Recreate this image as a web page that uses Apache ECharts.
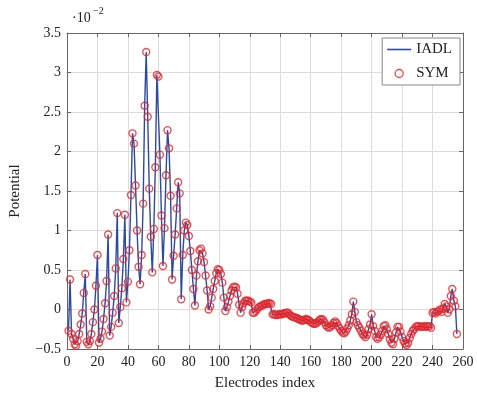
<!DOCTYPE html>
<html><head><meta charset="utf-8">
<script src="https://cdn.jsdelivr.net/npm/echarts@6/dist/echarts.min.js"></script>
<style>html,body{margin:0;padding:0;background:#fff}#c{width:477px;height:396px}</style>
</head><body><div id="c"></div>
<script>
// Tick values
const xTicks = [0,20,40,60,80,100,120,140,160,180,200,220,240,260];
const yTicks = [-0.5,0,0.5,1,1.5,2,2.5,3,3.5];
// Potential (x 1e-2), electrodes 1..256
const pot1 = [-0.27,0.38,-0.31,-0.37,-0.44,-0.46,-0.40,-0.31,-0.19,-0.05,0.21,0.45,-0.41,-0.44,-0.40,-0.31,-0.16,0.0,0.30,0.69,-0.42,-0.37,-0.28,-0.12,0.08,0.36,0.95,-0.33,-0.22,-0.04,0.17,0.52];
const pot2 = [1.22,-0.17,0.03,0.27,0.64,1.2,0.09,0.35,0.75,1.45,2.23,2.1,1.57,1.0,0.54,0.32,0.69,1.34,2.58,3.26,2.44,1.53,0.92,0.47,1.02,1.8,2.97,2.95,1.96,1.19,0.55,1.03];
const pot3 = [1.7,2.27,2.04,1.44,0.38,0.68,0.95,1.28,1.61,1.47,0.13,0.69,1.0,1.1,1.07,0.93,0.74,0.5,0.26,0.05,0.43,0.61,0.75,0.77,0.71,0.6,0.43,0.24,0.0,0.04,0.15,0.26];
const pot4 = [0.36,0.46,0.51,0.5,0.45,0.34,0.15,-0.02,0.03,0.1,0.17,0.24,0.28,0.29,0.28,0.2,0.06,-0.04,0.03,0.08,0.11,0.11,0.11,0.1,0.09,-0.04,-0.04,-0.02,0.01,0.03,0.04,0.05];
const pot5 = [0.06,0.07,0.07,0.08,0.08,0.07,-0.06,-0.06,-0.07,-0.07,-0.06,-0.06,-0.06,-0.05,-0.05,-0.04,-0.04,-0.06,-0.08,-0.09,-0.1,-0.1,-0.11,-0.12,-0.13,-0.14,-0.14,-0.13,-0.12,-0.13,-0.14,-0.16];
const pot6 = [-0.17,-0.18,-0.18,-0.17,-0.15,-0.13,-0.12,-0.13,-0.16,-0.2,-0.22,-0.23,-0.22,-0.2,-0.17,-0.15,-0.17,-0.21,-0.24,-0.27,-0.29,-0.3,-0.28,-0.24,-0.2,-0.14,-0.06,0.1,-0.03,-0.16,-0.2,-0.23];
const pot7 = [-0.27,-0.31,-0.33,-0.35,-0.32,-0.25,-0.19,-0.06,-0.21,-0.27,-0.35,-0.37,-0.35,-0.32,-0.27,-0.21,-0.2,-0.25,-0.31,-0.38,-0.42,-0.44,-0.37,-0.29,-0.22,-0.22,-0.28,-0.35,-0.4,-0.43,-0.45,-0.42];
const pot8 = [-0.36,-0.31,-0.27,-0.25,-0.22,-0.21,-0.21,-0.22,-0.22,-0.21,-0.22,-0.21,-0.22,-0.21,-0.23,-0.04,-0.03,-0.05,-0.03,-0.02,0.0,-0.03,0.01,0.07,0.04,-0.04,0.0,0.17,0.26,0.11,0.04,-0.31];
const potential = [].concat(pot1,pot2,pot3,pot4,pot5,pot6,pot7,pot8);
const electrodes = potential.map((_, i) => i + 1);
const iadlData = electrodes.map((e, i) => [e, potential[i]]);
const symData = electrodes.map((e, i) => [e, potential[i]]);

const BLUE = '#2e4a9e';
const RED = '#e3242b';
const FONT = "'Liberation Serif', 'DejaVu Serif', serif";
const chart = echarts.init(document.getElementById('c'), null, {renderer: 'canvas'});
const yFmt = v => (v < 0 ? '\u2212' : '') + String(Math.abs(v));
const axisCommon = {min: 0, max: 260, interval: 20, type: 'value'};
const frameLine = {show: true, onZero: false, lineStyle: {color: '#666', width: 1}};
const frameTick = {show: true, inside: true, length: 4, lineStyle: {color: '#666'}};
chart.setOption({
  animation: false,
  backgroundColor: '#fff',
  grid: {left: 67, right: 14, top: 33, bottom: 46, containLabel: false},
  xAxis: [
    Object.assign({}, axisCommon, {
      position: 'bottom',
      name: 'Electrodes index', nameLocation: 'middle', nameGap: 27,
      nameTextStyle: {fontFamily: FONT, fontSize: 15, color: '#222'},
      axisLine: frameLine, axisTick: frameTick,
      axisLabel: {fontFamily: FONT, fontSize: 14, color: '#222', margin: 6},
      splitLine: {show: true, lineStyle: {color: '#dcdcdc', width: 1}}
    }),
    Object.assign({}, axisCommon, {
      position: 'top',
      axisLine: frameLine, axisTick: frameTick,
      axisLabel: {show: false}, splitLine: {show: false}
    })
  ],
  yAxis: [
    {
      type: 'value', min: -0.5, max: 3.5, interval: 0.5, position: 'left',
      name: 'Potential', nameLocation: 'middle', nameGap: 44, nameRotate: 90,
      nameTextStyle: {fontFamily: FONT, fontSize: 15, color: '#222'},
      axisLine: frameLine, axisTick: frameTick,
      axisLabel: {fontFamily: FONT, fontSize: 14, color: '#222', margin: 6, formatter: yFmt},
      splitLine: {show: true, lineStyle: {color: '#dcdcdc', width: 1}}
    },
    {
      type: 'value', min: -0.5, max: 3.5, interval: 0.5, position: 'right',
      axisLine: frameLine, axisTick: frameTick,
      axisLabel: {show: false}, splitLine: {show: false}
    }
  ],
  legend: {
    orient: 'vertical', right: 17, top: 38,
    itemWidth: 24, itemHeight: 8, itemGap: 9,
    padding: [4, 8, 4, 5],
    symbolKeepAspect: true,
    borderColor: '#888', borderWidth: 1, backgroundColor: '#fff',
    textStyle: {fontFamily: FONT, fontSize: 15, color: '#222', padding: [2, 0, 0, 0]},
    data: [
      {name: 'IADL', icon: 'path://M0,0L24,0L24,1.6L0,1.6Z', itemStyle: {color: BLUE, borderWidth: 0}},
      {name: 'SYM', icon: 'circle', itemStyle: {color: '#fff', borderColor: RED, borderWidth: 1.4}}
    ]
  },
  graphic: [
    {type: 'text', left: 72, top: 11, style: {text: '\u00b710', font: "14px 'Liberation Serif', serif", fill: '#222'}},
    {type: 'text', left: 93, top: 6, style: {text: '\u22122', font: "10px 'Liberation Serif', serif", fill: '#222'}}
  ],
  series: [
    {
      name: 'IADL', type: 'line', data: iadlData, symbol: 'none',
      lineStyle: {color: BLUE, width: 1.4}, itemStyle: {color: BLUE}, z: 2
    },
    {
      name: 'SYM', type: 'scatter', data: symData, symbol: 'circle', symbolSize: 7,
      itemStyle: {color: 'rgba(255,255,255,0)', borderColor: RED, borderWidth: 1.4}, z: 3
    }
  ]
});
</script></body></html>
